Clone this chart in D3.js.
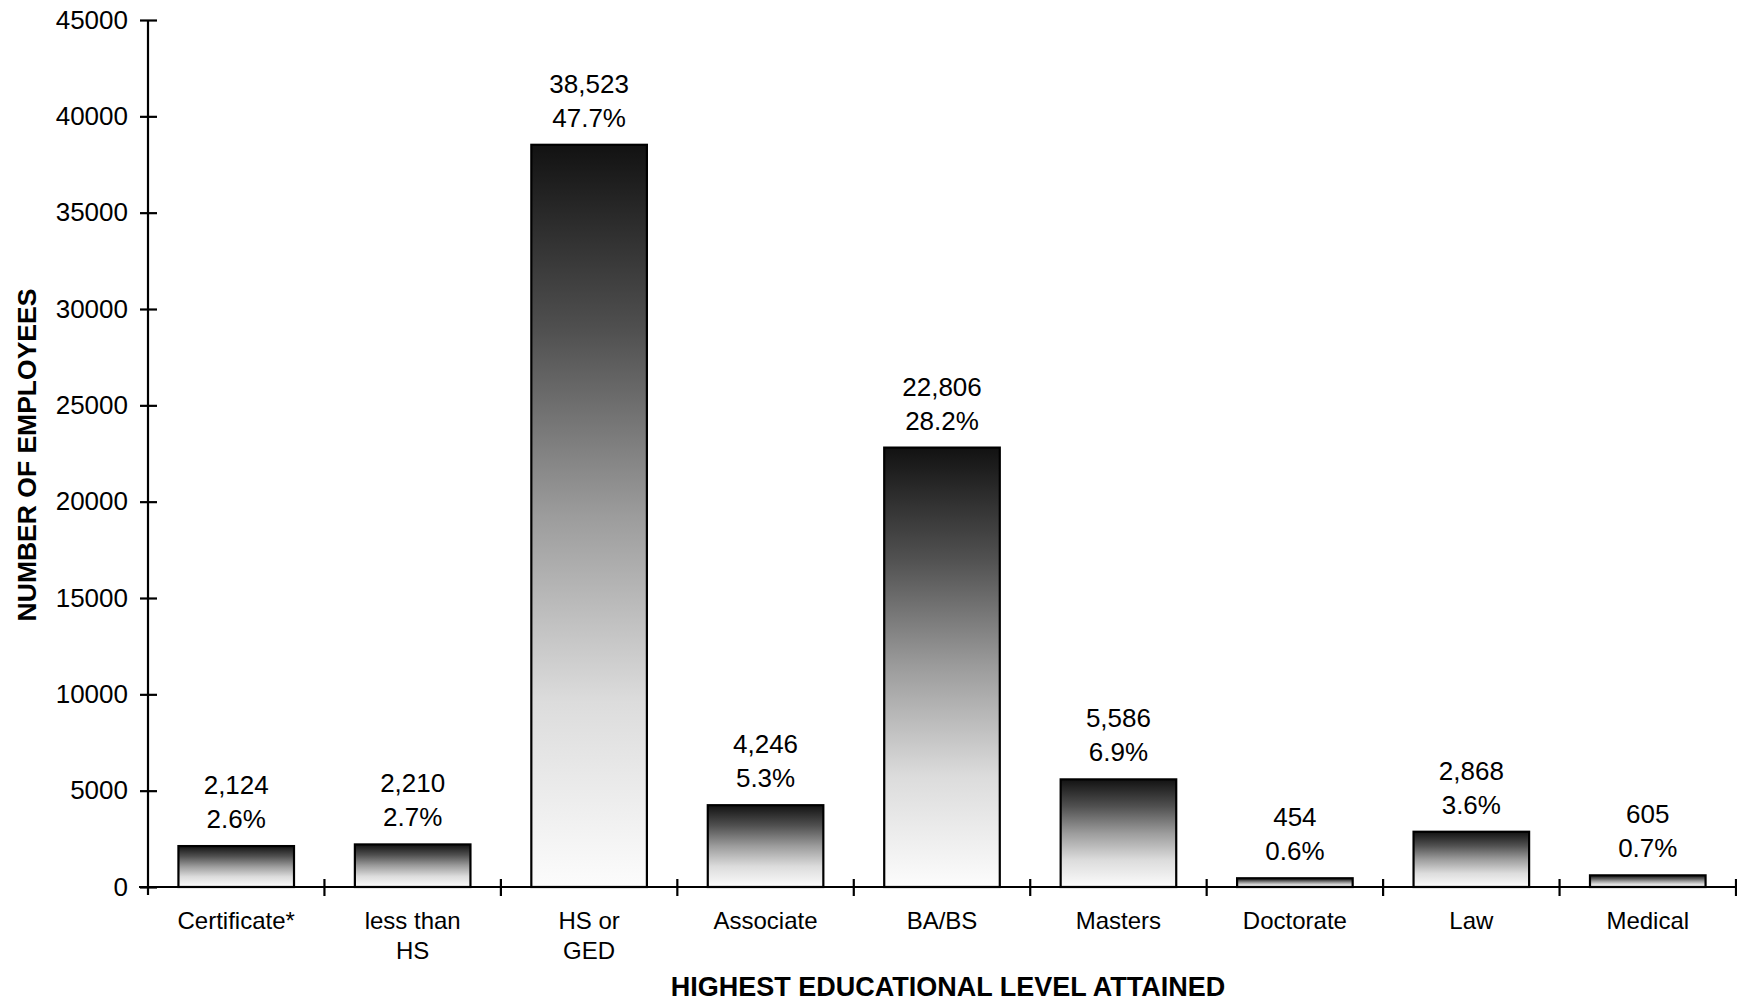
<!DOCTYPE html>
<html>
<head>
<meta charset="utf-8">
<script src="https://cdn.jsdelivr.net/npm/d3@7"></script>
<style>
  html, body { margin: 0; padding: 0; background: #fff; }
  svg { display: block; font-family: "Liberation Sans", Arial, sans-serif; }
</style>
</head>
<body>
<svg id="chart" width="1737" height="1003"></svg>
<script>
const categories = ["Certificate*", "less than\nHS", "HS or\nGED", "Associate", "BA/BS", "Masters", "Doctorate", "Law", "Medical"];
const counts = [2124, 2210, 38523, 4246, 22806, 5586, 454, 2868, 605];
const percents = ["2.6%", "2.7%", "47.7%", "5.3%", "28.2%", "6.9%", "0.6%", "3.6%", "0.7%"];
const yTicks = [0, 5000, 10000, 15000, 20000, 25000, 30000, 35000, 40000, 45000];
const xTitle = "HIGHEST EDUCATIONAL LEVEL ATTAINED";
const yTitle = "NUMBER OF EMPLOYEES";

(function () {
const svg = d3.select("#chart");
const mLeft = 148, mRight = 1736, mTop = 20, mBottom = 887;

const x = d3.scaleBand().domain(categories).range([mLeft, mRight]).padding(0);
const y = d3.scaleLinear().domain([0, 45000]).range([mBottom, mTop]);

// gradient
const defs = svg.append("defs");
const grad = defs.append("linearGradient").attr("id", "barGrad")
  .attr("x1", 0).attr("y1", 0).attr("x2", 0).attr("y2", 1);
[[0, "#121212"], [0.25, "#505050"], [0.5, "#9c9c9c"], [0.75, "#dcdcdc"], [1, "#fcfcfc"]]
  .forEach(([o, c]) => grad.append("stop").attr("offset", o).attr("stop-color", c));

const barW = x.bandwidth() * 0.655;

// bars
svg.append("g").selectAll("rect").data(categories).join("rect")
  .attr("x", d => x(d) + (x.bandwidth() - barW) / 2)
  .attr("y", (d, i) => y(counts[i]))
  .attr("width", barW)
  .attr("height", (d, i) => mBottom - y(counts[i]))
  .attr("fill", "url(#barGrad)")
  .attr("stroke", "#000")
  .attr("stroke-width", 2.2);

// Y axis
const yAxis = svg.append("g").attr("transform", `translate(${mLeft},0)`)
  .call(d3.axisLeft(y).tickValues(yTicks).tickFormat(d3.format("d")).tickSize(8).tickPadding(12));
yAxis.select(".domain").remove();
yAxis.append("line").attr("x1", 0).attr("x2", 0).attr("y1", mTop).attr("y2", mBottom + 8)
  .attr("stroke", "#000").attr("stroke-width", 2.2);
yAxis.selectAll(".tick line").attr("x1", -8).attr("x2", 9).attr("stroke", "#000").attr("stroke-width", 2.2);
yAxis.selectAll(".tick text").attr("font-size", 26).attr("fill", "#000")
  .attr("font-family", "'Liberation Sans', Arial, sans-serif");

// X axis
const xAxis = svg.append("g").attr("transform", `translate(0,${mBottom})`);
xAxis.append("line").attr("x1", mLeft - 9).attr("x2", mRight).attr("y1", 0).attr("y2", 0)
  .attr("stroke", "#000").attr("stroke-width", 2.2);
const bounds = categories.map(c => x(c) + x.bandwidth());
xAxis.selectAll("line.tk").data(bounds).join("line").attr("class", "tk")
  .attr("x1", d => d).attr("x2", d => d).attr("y1", -8).attr("y2", 9)
  .attr("stroke", "#000").attr("stroke-width", 2.2);

// category labels
const catG = svg.append("g");
categories.forEach(c => {
  const t = catG.append("text").attr("x", x(c) + x.bandwidth() / 2).attr("y", 929)
    .attr("text-anchor", "middle").attr("font-size", 24).attr("fill", "#000");
  c.split("\n").forEach((ln, j) => {
    t.append("tspan").attr("x", x(c) + x.bandwidth() / 2).attr("dy", j === 0 ? 0 : 30).text(ln);
  });
});

// value labels
const valG = svg.append("g");
categories.forEach((c, i) => {
  const cx = x(c) + x.bandwidth() / 2;
  const yt = y(counts[i]);
  valG.append("text").attr("x", cx).attr("y", yt - 52).attr("text-anchor", "middle")
    .attr("font-size", 26).text(d3.format(",")(counts[i]));
  valG.append("text").attr("x", cx).attr("y", yt - 18).attr("text-anchor", "middle")
    .attr("font-size", 26).text(percents[i]);
});

// axis titles
svg.append("text").attr("x", 948).attr("y", 996).attr("text-anchor", "middle")
  .attr("font-size", 27).attr("font-weight", "bold").text(xTitle);
svg.append("text").attr("transform", "translate(36,455) rotate(-90)").attr("text-anchor", "middle")
  .attr("font-size", 26.5).attr("font-weight", "bold").text(yTitle);
})();
</script>
</body>
</html>
